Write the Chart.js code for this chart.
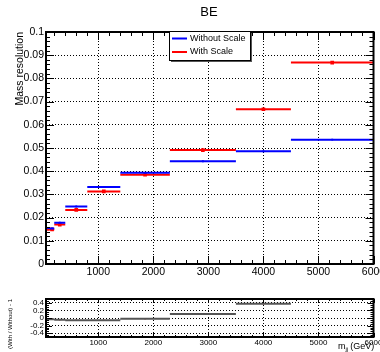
<!DOCTYPE html>
<html>
<head>
<meta charset="utf-8">
<script src="https://cdn.jsdelivr.net/npm/chart.js@4.4.0/dist/chart.umd.min.js"></script>
<style>
  html, body { margin: 0; padding: 0; background: #fff; }
  #wrap { position: relative; width: 380px; height: 352px; overflow: hidden; }
  #mainChart { position: absolute; left: 0; top: 0; }
  #ratioChart { position: absolute; left: 0; top: 290px; }
</style>
</head>
<body>
<div id="wrap">
  <canvas id="mainChart" width="380" height="290"></canvas>
  <canvas id="ratioChart" width="380" height="62"></canvas>
</div>
<script>
// bin edges in m_jj (GeV)
const binEdges = [50, 120, 200, 400, 800, 1400, 2300, 3500, 4500, 6000];
const withoutScale = [0.0155, 0.0153, 0.0178, 0.0248, 0.0332, 0.0393, 0.0443, 0.0486, 0.0536];
const withScale = [0.0151, 0.0149, 0.0170, 0.0233, 0.0313, 0.0385, 0.0491, 0.0667, 0.0868];
const ratioValues = [-0.03, -0.03, -0.045, -0.06, -0.057, -0.02, 0.108, 0.372, 0.62];
const xTickValues = [1000, 2000, 3000, 4000, 5000, 6000];
const mainYTicks = [0, 0.01, 0.02, 0.03, 0.04, 0.05, 0.06, 0.07, 0.08, 0.09, 0.1];
const ratioYTicks = [-0.4, -0.2, 0, 0.2, 0.4];

const FONT = "'Liberation Sans', Arial, sans-serif";

function stepData(values) {
  const pts = [];
  values.forEach((v, i) => {
    pts.push({ x: binEdges[i], y: v });
    pts.push({ x: binEdges[i + 1], y: v });
    pts.push({ x: binEdges[i + 1], y: null });
  });
  return pts;
}

function centerData(values) {
  return values.map((v, i) => ({ x: (binEdges[i] + binEdges[i + 1]) / 2, y: v }));
}

function fmt(v) {
  return String(+v.toFixed(3));
}

// ROOT-like frame with inside ticks on all four sides
const rootFrame = {
  id: "rootFrame",
  afterDatasetsDraw(chart, args, o) {
    const { ctx, chartArea: a, scales } = chart;
    const xs = scales.x, ys = scales.y;
    ctx.save();
    ctx.strokeStyle = "#000";
    ctx.lineWidth = 1;
    ctx.beginPath();
    for (let v = Math.ceil(xs.min / o.xMinor) * o.xMinor; v <= xs.max + 1e-9; v += o.xMinor) {
      const px = Math.round(xs.getPixelForValue(v)) + 0.5;
      const major = Math.abs(v / o.xMajor - Math.round(v / o.xMajor)) < 1e-6;
      const len = major ? o.xMajorLen : o.xMinorLen;
      ctx.moveTo(px, a.bottom); ctx.lineTo(px, a.bottom - len);
      ctx.moveTo(px, a.top); ctx.lineTo(px, a.top + len);
    }
    for (let v = Math.ceil(ys.min / o.yMinor - 1e-6) * o.yMinor; v <= ys.max + 1e-9; v += o.yMinor) {
      const py = Math.round(ys.getPixelForValue(v)) + 0.5;
      const major = Math.abs(v / o.yMajor - Math.round(v / o.yMajor)) < 1e-6;
      const len = major ? o.yMajorLen : o.yMinorLen;
      ctx.moveTo(a.left, py); ctx.lineTo(a.left + len, py);
      ctx.moveTo(a.right, py); ctx.lineTo(a.right - len, py);
    }
    ctx.stroke();
    ctx.lineWidth = 2;
    ctx.strokeRect(a.left, a.top, a.right - a.left, a.bottom - a.top);
    ctx.restore();
  },
  afterDraw(chart, args, o) {
    const ctx = chart.ctx;
    const a = chart.chartArea;
    ctx.save();
    ctx.fillStyle = "#000";
    if (o.title) {
      ctx.font = "13px " + FONT;
      ctx.textAlign = "center";
      ctx.textBaseline = "middle";
      ctx.fillText(o.title, 209, 12);
    }
    if (o.yTitle) {
      ctx.save();
      ctx.translate(o.yTitleX, a.top);
      ctx.rotate(-Math.PI / 2);
      ctx.font = o.yTitleSize + "px " + FONT;
      ctx.textAlign = "right";
      ctx.textBaseline = "middle";
      ctx.fillText(o.yTitle, 0, 0);
      ctx.restore();
    }
    if (o.legend) {
      const L = o.legend;
      ctx.fillStyle = "#555";
      ctx.fillRect(L.x + 2, L.y + 2, L.w, L.h);
      ctx.fillStyle = "#fff";
      ctx.fillRect(L.x, L.y, L.w, L.h);
      ctx.strokeStyle = "#000";
      ctx.lineWidth = 1;
      ctx.strokeRect(L.x + 0.5, L.y + 0.5, L.w, L.h);
      const ds = chart.data.datasets.filter(d => d.legend);
      ds.forEach((d, i) => {
        const y = L.y + 7.5 + i * 13.5;
        ctx.strokeStyle = d.borderColor;
        ctx.lineWidth = 2;
        ctx.beginPath();
        ctx.moveTo(L.x + 3, y); ctx.lineTo(L.x + 18, y);
        ctx.stroke();
        ctx.fillStyle = "#000";
        ctx.font = "9px " + FONT;
        ctx.textAlign = "left";
        ctx.textBaseline = "middle";
        ctx.fillText(d.label, L.x + 21, y);
      });
    }
    if (o.xTitle) {
      ctx.fillStyle = "#000";
      ctx.textBaseline = "alphabetic";
      ctx.textAlign = "left";
      let x = 338;
      const y = 59;
      ctx.font = "9px " + FONT;
      ctx.fillText("m", x, y);
      x += ctx.measureText("m").width;
      ctx.font = "6px " + FONT;
      ctx.fillText("jj", x, y + 2);
      x += ctx.measureText("jj").width + 1;
      ctx.font = "9px " + FONT;
      ctx.fillText("(GeV)", x + 1, y);
    }
    ctx.restore();
  }
};

new Chart(document.getElementById("mainChart"), {
  type: "line",
  data: {
    datasets: [
      { label: "Without Scale", legend: true, data: stepData(withoutScale), borderColor: "#0000ff", borderWidth: 2, pointRadius: 0, spanGaps: false },
      { label: "With Scale", legend: true, data: stepData(withScale), borderColor: "#ff0000", borderWidth: 2, pointRadius: 0, spanGaps: false },
      { label: "wo", data: centerData(withoutScale), showLine: false, pointStyle: "rect", pointRadius: 1.3, backgroundColor: "#0000ff", borderWidth: 0 },
      { label: "w", data: centerData(withScale), showLine: false, pointStyle: "rect", pointRadius: 2.6, backgroundColor: "#ff0000", borderWidth: 0 }
    ]
  },
  options: {
    responsive: false,
    animation: false,
    layout: { padding: { top: 32, right: 6.5, left: 0, bottom: 0 } },
    plugins: {
      legend: { display: false },
      tooltip: { enabled: false },
      rootFrame: {
        xMinor: 200, xMajor: 1000, xMajorLen: 8, xMinorLen: 4,
        yMinor: 0.002, yMajor: 0.01, yMajorLen: 8, yMinorLen: 4,
        title: "BE",
        yTitle: "Mass resolution", yTitleX: 20.5, yTitleSize: 10.5,
        legend: { x: 169, y: 31, w: 81, h: 29 }
      }
    },
    scales: {
      x: {
        type: "linear", min: 50, max: 6000,
        afterBuildTicks: s => { s.ticks = xTickValues.map(v => ({ value: v })); },
        afterFit: s => { s.height = 26; s.paddingLeft = 0; s.paddingRight = 0; },
        grid: { color: "#000", lineWidth: 1, drawTicks: false },
        border: { display: false, dash: [1, 2] },
        ticks: { color: "#000", font: { family: FONT, size: 10.5 }, padding: 2, maxRotation: 0, autoSkip: false, callback: v => String(v) }
      },
      y: {
        min: 0, max: 0.1,
        afterBuildTicks: s => { s.ticks = mainYTicks.map(v => ({ value: v })); },
        afterFit: s => { s.width = 46; s.paddingTop = 0; s.paddingBottom = 0; },
        grid: { color: "#000", lineWidth: 1, drawTicks: false },
        border: { display: false, dash: [1, 2] },
        ticks: { color: "#000", font: { family: FONT, size: 10.5 }, padding: 2, autoSkip: false, callback: v => fmt(v) }
      }
    }
  },
  plugins: [rootFrame]
});

new Chart(document.getElementById("ratioChart"), {
  type: "line",
  data: {
    datasets: [
      { label: "ratio", data: stepData(ratioValues), borderColor: "#555555", borderWidth: 2, pointRadius: 0, spanGaps: false },
      { label: "ratioPts", data: centerData(ratioValues), showLine: false, pointStyle: "rect", pointRadius: 1, backgroundColor: "#cc3333", borderWidth: 0 }
    ]
  },
  options: {
    responsive: false,
    animation: false,
    layout: { padding: { top: 9, right: 6.5, left: 0, bottom: 0 } },
    plugins: {
      legend: { display: false },
      tooltip: { enabled: false },
      rootFrame: {
        xMinor: 200, xMajor: 1000, xMajorLen: 4, xMinorLen: 2,
        yMinor: 0.05, yMajor: 0.2, yMajorLen: 6, yMinorLen: 3,
        yTitle: "(With / Without) - 1", yTitleX: 10, yTitleSize: 6,
        xTitle: true
      }
    },
    scales: {
      x: {
        type: "linear", min: 50, max: 6000,
        afterBuildTicks: s => { s.ticks = xTickValues.map(v => ({ value: v })); },
        afterFit: s => { s.height = 15; s.paddingLeft = 0; s.paddingRight = 0; },
        grid: { color: "#000", lineWidth: 1, drawTicks: false },
        border: { display: false, dash: [1, 2] },
        ticks: { color: "#000", font: { family: FONT, size: 8 }, padding: 1, maxRotation: 0, autoSkip: false, callback: v => String(v) }
      },
      y: {
        min: -0.5, max: 0.5,
        afterBuildTicks: s => { s.ticks = ratioYTicks.map(v => ({ value: v })); },
        afterFit: s => { s.width = 46; s.paddingTop = 0; s.paddingBottom = 0; },
        grid: { color: "#000", lineWidth: 1, drawTicks: false },
        border: { display: false, dash: [1, 2] },
        ticks: { color: "#000", font: { family: FONT, size: 8 }, padding: 2, autoSkip: false, callback: v => fmt(v) }
      }
    }
  },
  plugins: [rootFrame]
});
</script>
</body>
</html>
